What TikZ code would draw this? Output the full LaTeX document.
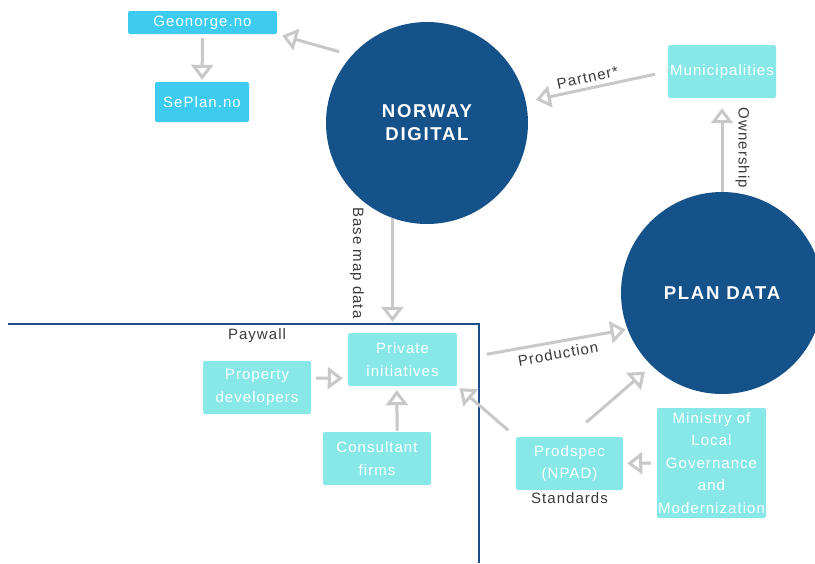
\documentclass[tikz,border=0pt]{standalone}
\usepackage{fontspec}
\setmainfont{Liberation Sans}[LetterSpace=7]
\usetikzlibrary{arrows.meta}

\definecolor{hubblue}{HTML}{16528A}
\definecolor{siteblue}{HTML}{3DCBEF}
\definecolor{actorcyan}{HTML}{88E8E8}
\definecolor{flowgrey}{HTML}{C8C8C8}
\definecolor{wallblue}{HTML}{1D4E89}
\definecolor{labelgrey}{HTML}{3A3A3A}

\begin{document}
\begin{tikzpicture}[x=1pt, y=-1pt,
    hub node/.style={circle, fill=hubblue, minimum size=202pt, inner sep=0pt, align=center,
                     text=white, font=\fontsize{18.6}{23}\selectfont\bfseries\addfontfeatures{LetterSpace=9}},
    site node/.style={fill=siteblue, rounded corners=2pt, inner sep=0pt, align=center,
                      text=white, font=\fontsize{15}{22}\selectfont},
    actor node/.style={fill=actorcyan, rounded corners=2pt, inner sep=0pt, align=center,
                       text=white, font=\fontsize{15}{22.5}\selectfont},
    flow/.style={draw=flowgrey, line width=3pt, -{Triangle[open, length=15pt, width=22pt]}},
    tag/.style={text=labelgrey, font=\fontsize{15}{18}\selectfont}]

  \clip (0,0) rectangle (815,563);
  \useasboundingbox (0,0) rectangle (815,563);

  % the two hubs
  \node[hub node] (nd) at (427,123) {NORWAY\\DIGITAL};
  \node[hub node] (pd) at (722,293) {PLAN DATA};

  % web services
  \node[site node, minimum width=149pt, minimum height=23pt] (geo) at (202.5,22.5) {Geonorge.no};
  \node[site node, minimum width=94pt, minimum height=40pt] (sep) at (202,102) {SePlan.no};

  % actors
  \node[actor node, minimum width=108pt, minimum height=53pt] (muni) at (722,71.5) {Municipalities};
  \node[actor node, minimum width=109pt, minimum height=53pt] (priv) at (402.5,359.5) {Private\\initiatives};
  \node[actor node, minimum width=108pt, minimum height=53pt] (prop) at (257,387.5) {Property\\developers};
  \node[actor node, minimum width=108pt, minimum height=53pt] (cons) at (377,458.5) {Consultant\\firms};
  \node[actor node, minimum width=107pt, minimum height=53pt] (prod) at (569.5,463.5) {Prodspec\\(NPAD)};
  \node[actor node, minimum width=109pt, minimum height=110pt] (min) at (711.5,463)
       {Ministry of\\Local\\Governance\\and\\Modernization};

  % paywall
  \draw[wallblue, line width=2pt] (8,324) -| (479,563);
  \node[tag] (wall) at (257,336) {Paywall};
  \node[tag, anchor=north, inner sep=2pt] (std) at (prod.south) {Standards};

  \path[every edge/.style={flow}]
    (nd.138) edge[shorten <=13pt, shorten >=5pt] (geo.south east)
    (geo) edge[shorten <=4pt, shorten >=2pt] (sep)
    (muni.west) edge[shorten <=13pt, shorten >=10pt]
        node[tag, sloped, above, pos=0.55, inner sep=4pt] {Partner*} (nd)
    (pd) edge[shorten >=10pt] node[tag, anchor=south, rotate=-90, pos=0.47, inner sep=12pt] {Ownership} (muni)
    (nd.250) edge[shorten >=11pt] node[tag, sloped, below, pos=0.39, inner sep=27pt] {Base map data} (nd.250 |- priv.north)
    (priv.east) edge[shorten <=30pt, shorten >=2pt]
        node[tag, sloped, below, pos=0.58, inner sep=5pt] {Production} (pd.201)
    (prod.north) edge[shorten <=22pt, shorten >=9pt] (pd.226)
    (prod.north west) edge[shorten <=10pt, shorten >=3pt] (priv.south east)
    (min.west) edge[shorten <=6pt, shorten >=4pt] (prod.east)
    (prop.10) edge[shorten <=5pt, shorten >=5pt] (priv.199)
    (cons.53) edge[shorten <=1pt, shorten >=4pt] (priv.258);

\end{tikzpicture}
\end{document}
